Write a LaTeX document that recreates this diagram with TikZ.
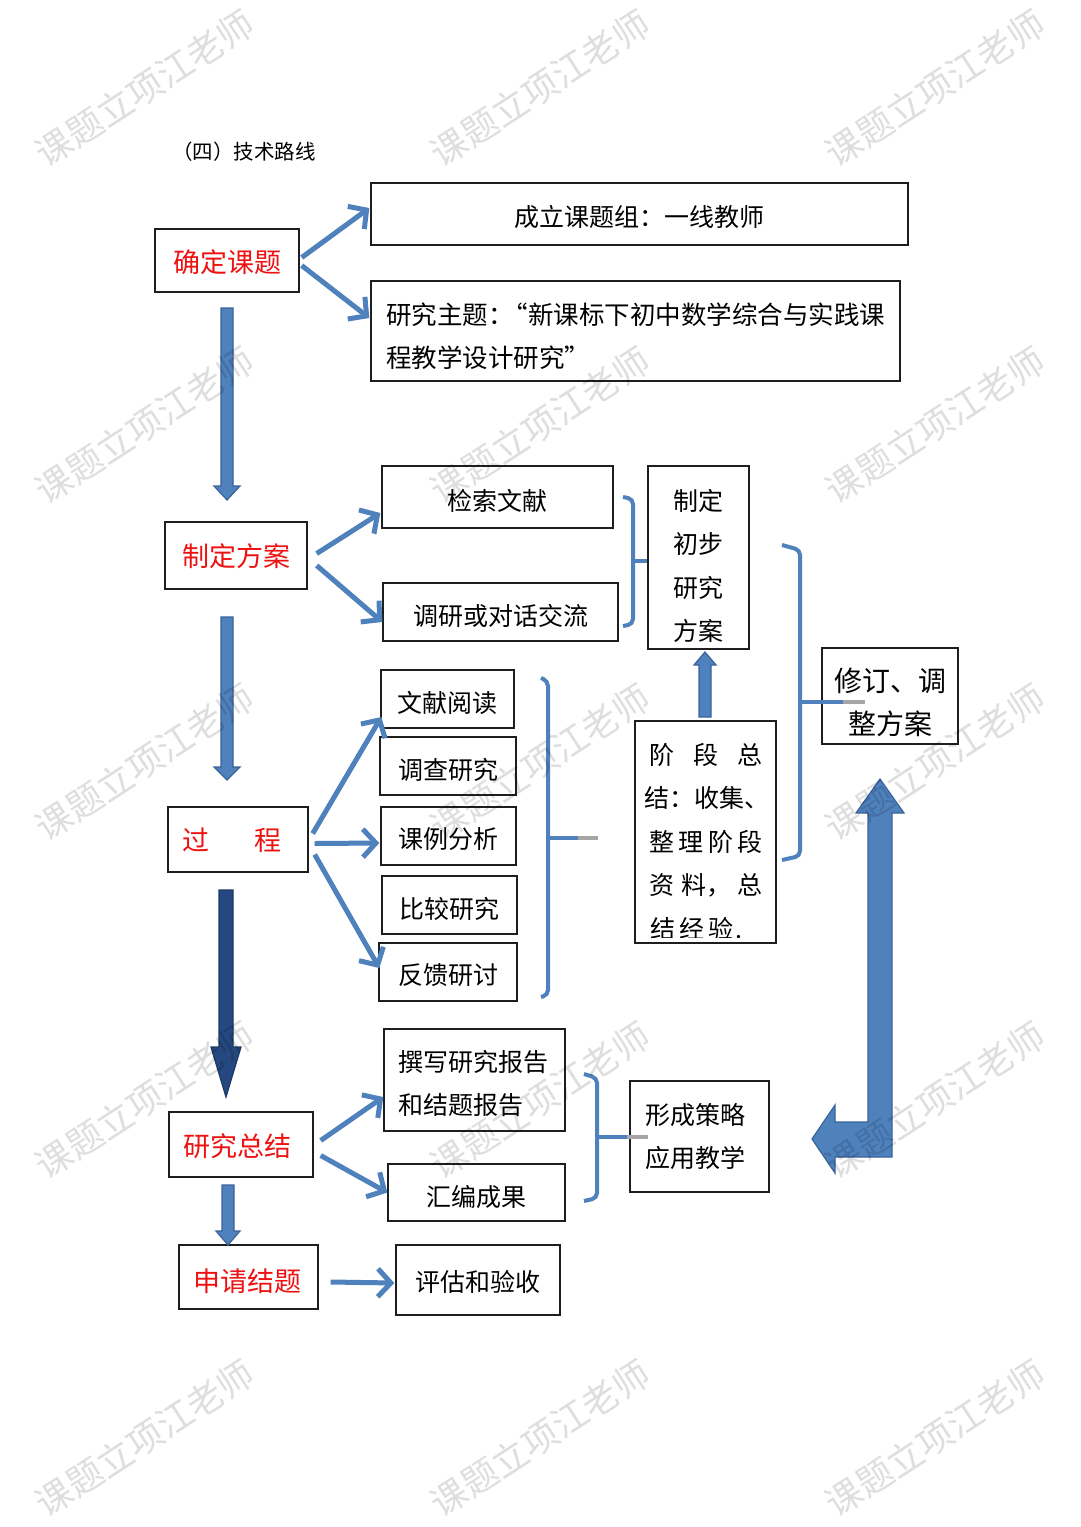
\documentclass[tikz,border=0pt]{standalone}
\usepackage{fontspec}
\setmainfont{Noto Sans CJK SC}
\usetikzlibrary{arrows.meta,calc}
\definecolor{ablue}{HTML}{4F81BD}
\definecolor{aedge}{HTML}{3A639A}
\definecolor{adark}{HTML}{24487F}
\definecolor{tred}{HTML}{EE1111}
\definecolor{boxline}{HTML}{1E1E1E}
% style, x, y start, y tip, half shaft, half head, head length (signed)
\newcommand\vblockarrow[7]{\path[#1] ({#2-#5},#3) -- ({#2+#5},#3) -- ({#2+#5},{#4-#7}) -- ({#2+#6},{#4-#7}) -- (#2,#4) -- ({#2-#6},{#4-#7}) -- ({#2-#5},{#4-#7}) -- cycle;}
% box name, text offset (dy), style, text
\newcommand\boxtext[4]{\node[#3] (#1t) at ($(#1.center)+(0,#2)$) {#4};}
\begin{document}
\begin{tikzpicture}[x=1pt,y=-1pt,
  box/.style={draw=boxline,line width=1.4pt,fill=white,inner sep=0pt},
  txt/.style={font=\fontsize{25}{43.5}\selectfont,inner sep=0pt,align=center},
  lefttxt/.style={font=\fontsize{25}{42.5}\selectfont,inner sep=0pt,align=left,anchor=west},
  redtxt/.style={font=\fontsize{27}{30}\selectfont,text=tred,inner sep=0pt},
  arr/.style={draw=ablue,line width=5pt,-{Straight Barb[length=13pt,width=28pt]},
    preaction={draw=black!22,transform canvas={shift={(1.5pt,-1.5pt)}}}},
  brk/.style={draw=ablue,line width=4pt,rounded corners=5pt,
    preaction={draw=black!18,transform canvas={shift={(1.2pt,-1.2pt)}}}},
  brkline/.style={draw=ablue,line width=4pt},
  greytick/.style={draw=black!35,line width=4pt},
  blk/.style={fill=ablue,draw=aedge,line width=1.2pt,line join=miter},
  dblk/.style={fill=adark,draw=adark!80!black,line width=1.2pt,line join=miter},
  wmark/.style={rotate=33,text=black,opacity=0.13,font=\fontsize{36}{36}\selectfont,inner sep=0pt}
]
\fill[white] (0,0) rectangle (1080,1527);
\useasboundingbox (0,0) rectangle (1080,1527);

% title
\node[anchor=west,font=\fontsize{20.5}{24}\selectfont,inner sep=0pt] (title) at (172,152) {（四）技术路线};

% ---------- row 1 ----------
\node[box,minimum width=144pt,minimum height=63pt] (A) at (227,260.5) {};
\boxtext{A}{2}{redtxt}{确定课题}
\node[box,minimum width=537pt,minimum height=62pt] (B) at (639.5,214) {};
\boxtext{B}{3.5}{txt}{成立课题组：一线教师}
\node[box,minimum width=529pt,minimum height=100pt] (C) at (635.5,331) {};
\node[lefttxt,font=\fontsize{25.5}{42.5}\selectfont] (Ct) at (386,336) {研究主题：\kern-11pt“新课标下初中数学综合与实践课\\程教学设计研究”};

% ---------- row 2 ----------
\node[box,minimum width=142pt,minimum height=67pt] (D) at (236,555.5) {};
\boxtext{D}{1}{redtxt}{制定方案}
\node[box,minimum width=231pt,minimum height=62pt] (E) at (497.5,497) {};
\boxtext{E}{3.5}{txt}{检索文献}
\node[box,minimum width=235pt,minimum height=58pt] (F) at (500.5,612) {};
\boxtext{F}{3.5}{txt}{调研或对话交流}
\node[box,minimum width=101pt,minimum height=183pt] (G) at (698.5,557.5) {};
\node[txt] (Gt) at (698.5,566) {制定\\初步\\研究\\方案};

% ---------- row 3 ----------
\node[box,minimum width=140pt,minimum height=65pt] (H) at (238,839.5) {};
\node[redtxt] (Ht) at (232,840) {过\hspace{45pt}程};
\node[box,minimum width=133pt,minimum height=58pt] (T1) at (447.5,699) {};
\boxtext{T1}{3.5}{txt}{文献阅读}
\node[box,minimum width=136pt,minimum height=58pt] (T2) at (448,766) {};
\boxtext{T2}{3.5}{txt}{调查研究}
\node[box,minimum width=135pt,minimum height=58pt] (T3) at (448.5,836) {};
\boxtext{T3}{3.5}{txt}{课例分析}
\node[box,minimum width=135pt,minimum height=58pt] (T4) at (449.5,905) {};
\boxtext{T4}{3.5}{txt}{比较研究}
\node[box,minimum width=138pt,minimum height=58pt] (T5) at (448,972) {};
\boxtext{T5}{3.5}{txt}{反馈研讨}

\node[box,minimum width=141pt,minimum height=222pt] (I) at (705.5,832) {};
\begin{scope}
  \clip ($(I.north west)+(1,1)$) rectangle (775,937);
  \node[txt] (I1) at (706,755) {\makebox[113pt][s]{阶\hfill 段\hfill 总}};
  \node[txt] (I2) at (707,798) {结：收集、};
  \node[txt] (I3) at (706,842) {\makebox[113pt][s]{整\hfill 理\hfill 阶\hfill 段}};
  \node[txt] (I4) at (706,885) {\makebox[113pt][s]{资\hfill 料，\hfill 总}};
  \node[txt,anchor=west] (I5) at (650,929) {结\hspace{4pt}经\hspace{4pt}验\hspace{2pt}.};
\end{scope}

\node[box,minimum width=136pt,minimum height=96pt] (J) at (890,696) {};
\node[txt,font=\fontsize{28}{43}\selectfont] (Jt) at (890,702.5) {修订、调\\整方案};

% ---------- row 4 ----------
\node[box,minimum width=144pt,minimum height=65pt] (K) at (241,1144.5) {};
\node[redtxt] (Kt) at (237,1146.5) {研究总结};
\node[box,minimum width=181pt,minimum height=102pt] (L) at (474.5,1080) {};
\node[lefttxt,font=\fontsize{25}{43}\selectfont] (Lt) at (398,1084) {撰写研究报告\\和结题报告};
\node[box,minimum width=177pt,minimum height=57pt] (M) at (476.5,1192.5) {};
\boxtext{M}{4}{txt}{汇编成果}
\node[box,minimum width=139pt,minimum height=111pt] (N) at (699.5,1136.5) {};
\node[lefttxt,font=\fontsize{25}{43}\selectfont] (Nt) at (645,1137) {形成策略\\应用教学};

% ---------- row 5 ----------
\node[box,minimum width=139pt,minimum height=64pt] (O) at (248.5,1277) {};
\node[redtxt] (Ot) at (247.5,1281) {申请结题};
\node[box,minimum width=164pt,minimum height=70pt] (P) at (478,1280) {};
\boxtext{P}{1.5}{txt}{评估和验收}

% ---------- thin arrows ----------
\draw[arr] ($(A.east)+(2,-3)$) -- ($(B.west)+(-1,-6)$);
\draw[arr] ($(A.east)+(2,5)$) -- ($(C.west)+(-1,-13)$);
\draw[arr] ($(D.east)+(9,-2)$) -- ($(E.west)+(-1,16)$);
\draw[arr] ($(D.east)+(9,10)$) -- ($(F.west)+(0,10)$);
\draw[arr] ($(H.east)+(4,-6)$) -- ($(T1.west)+(1,18)$);
\draw[arr] ($(H.east)+(6,4)$) -- ($(T3.west)+(-1,7)$);
\draw[arr] ($(H.east)+(6,15)$) -- ($(T5.west)+(1,-4)$);
\draw[arr] ($(K.east)+(7,-4)$) -- ($(L.west)+(0,17)$);
\draw[arr] ($(K.east)+(7,11)$) -- (M.west);
\draw[arr] ($(O.east)+(12,5)$) -- ($(P.west)+(-1,3)$);

% ---------- block arrows ----------
\vblockarrow{blk}{227}{308}{500}{6}{13}{14}
\vblockarrow{blk}{227}{617}{780}{6}{13}{13}
\vblockarrow{dblk}{226}{890}{1097}{7}{15}{50}
\vblockarrow{blk}{228}{1185}{1245}{6}{12}{14}
\vblockarrow{blk}{705}{717}{652}{6}{11}{-13}
% big L-shaped double arrow
\path[blk] (880,779) -- (904,813) -- (892,813) -- (892,1157) -- (835,1157) -- (835,1173)
  -- (812,1139) -- (835,1105) -- (835,1122) -- (868,1122) -- (868,813) -- (856,813) -- cycle;

% ---------- brackets ----------
\draw[brk] (623,497) -- (633,499) -- (633,624) -- (623,626);
\coordinate (k1) at (633,561);
\draw[brkline] (k1) -- (k1 -| G.west);

\draw[brk] (541,678) -- (548,681) -- (548,995) -- (541,997);
\coordinate (k2) at (548,838);
\coordinate (k2g) at (578,838);
\coordinate (k2e) at (598,838);
\draw[brkline] (k2) -- (k2g);
\draw[greytick] (k2g) -- (k2e);

\draw[brk] (782,545) -- (800,550) -- (800,856) -- (782,860);
\coordinate (k3) at (800,702);
\coordinate (k3g) at (843,702);
\coordinate (k3e) at (865,702);
\draw[brkline] (k3) -- (k3g);
\draw[greytick] (k3g) -- (k3e);

\draw[brk] (584,1074) -- (597,1078) -- (597,1198) -- (584,1201);
\coordinate (k4) at (597,1137);
\coordinate (k4g) at (627,1137);
\coordinate (k4e) at (648,1137);
\draw[brkline] (k4) -- (k4g);
\draw[greytick] (k4g) -- (k4e);

% ---------- watermarks ----------
\foreach \wx in {145,540,935}{
  \foreach \wy in {88,425,762,1100,1438}{
    \node[wmark] (wm-\wx-\wy) at (\wx,\wy) {课题立项江老师};
  }
}
\end{tikzpicture}
\end{document}
